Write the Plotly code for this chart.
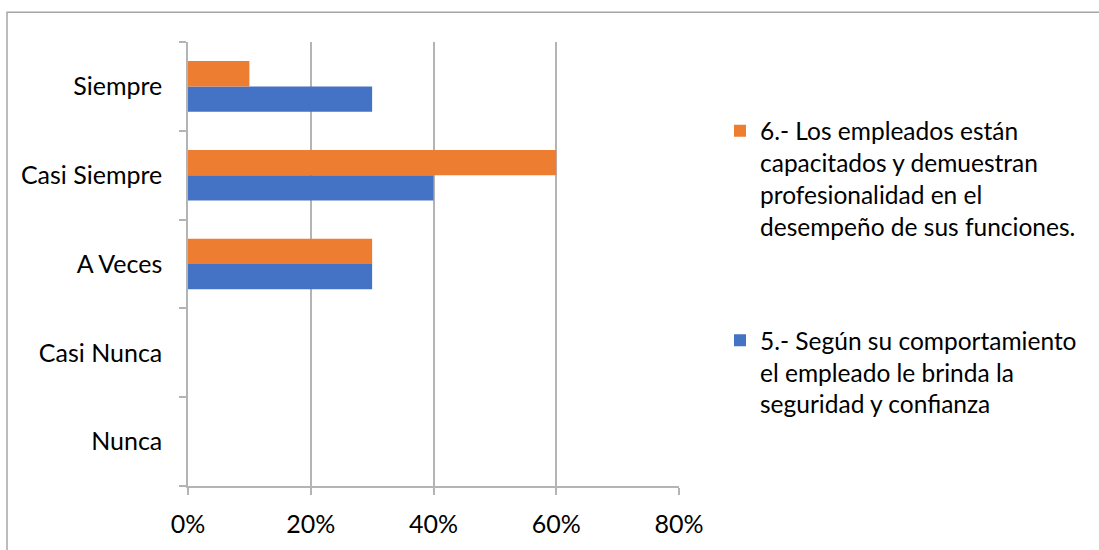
import plotly.graph_objects as go

# Response categories (bottom to top) and percentage shares per question
categorias = ["Nunca", "Casi Nunca", "A Veces", "Casi Siempre", "Siempre"]
pregunta_5 = [0.0, 0.0, 0.30, 0.40, 0.30]
pregunta_6 = [0.0, 0.0, 0.30, 0.60, 0.10]

nombre_5 = "5.- Según su comportamiento<br>el empleado le brinda la<br>seguridad y confianza"
nombre_6 = "6.- Los empleados están<br>capacitados y demuestran<br>profesionalidad en el<br>desempeño de sus funciones."

xticks = [0, 0.2, 0.4, 0.6, 0.8]
xtick_text = ["0%", "20%", "40%", "60%", "80%"]

W, H = 1099, 550
L, R, T, B = 188, 420, 42, 60
pw, ph = W - L - R, H - T - B

FONT = "Lato"
GRID = "#b4b4b4"

fig = go.Figure()
fig.add_trace(go.Bar(
    y=categorias, x=pregunta_5, orientation="h", name=nombre_5,
    marker=dict(color="#4472C4", line=dict(width=0)),
    legendgroup="g5", legendrank=2, hoverinfo="x+y",
))
fig.add_trace(go.Bar(
    y=categorias, x=pregunta_6, orientation="h", name=nombre_6,
    marker=dict(color="#ED7D31", line=dict(width=0)),
    legendgroup="g6", legendrank=1, hoverinfo="x+y",
))

def px_x(p):
    return (p - L) / pw

def px_y(p):
    return (H - B - p) / ph

# Chart frame (left and top edges visible)
fig.add_shape(type="rect", xref="paper", yref="paper",
              x0=px_x(7), x1=px_x(1115), y0=px_y(570), y1=px_y(12),
              line=dict(color="#a6a6a6", width=1.5), fillcolor="rgba(0,0,0,0)",
              layer="below")

fig.update_layout(
    width=W, height=H,
    margin=dict(l=L, r=R, t=T, b=B, pad=0),
    paper_bgcolor="white", plot_bgcolor="white",
    barmode="group", bargap=0.43, bargroupgap=0,
    font=dict(family=FONT, size=25, color="#000000"),
    showlegend=True,
    legend=dict(
        x=px_x(720), y=px_y(109), xanchor="left", yanchor="top",
        traceorder="grouped", tracegroupgap=79,
        valign="top", font=dict(family=FONT, size=24.5, color="#000000"),
        bgcolor="rgba(0,0,0,0)",
    ),
    xaxis=dict(
        range=[0, 0.8], tickvals=xticks, ticktext=xtick_text,
        showgrid=True, gridcolor=GRID, gridwidth=1.5,
        zeroline=False, showline=True, linecolor=GRID, linewidth=1.5,
        ticks="outside", ticklen=7, tickcolor=GRID, tickwidth=1.5,
        ticklabelstandoff=8,
        tickfont=dict(family=FONT, size=25, color="#000000"),
        fixedrange=True,
    ),
    yaxis=dict(
        type="category", categoryorder="array", categoryarray=categorias,
        showgrid=False, zeroline=False, showline=True, linecolor=GRID, linewidth=1.5,
        ticks="outside", ticklen=7, tickcolor=GRID, tickwidth=1.5,
        tickson="boundaries", ticklabelstandoff=19,
        tickfont=dict(family=FONT, size=25, color="#000000"),
        fixedrange=True,
    ),
)

fig.write_html("out.html")
